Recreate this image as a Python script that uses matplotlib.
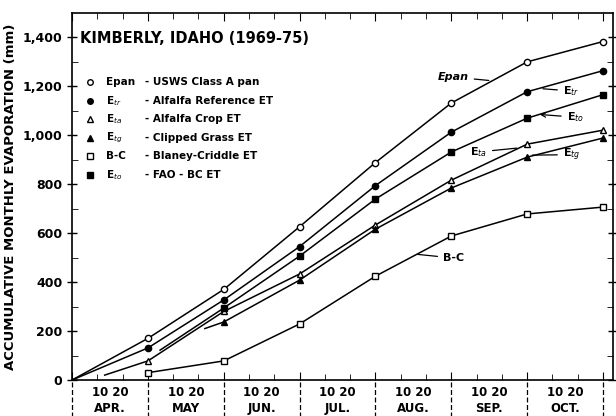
import numpy as np
import matplotlib.pyplot as plt
from matplotlib.ticker import FuncFormatter, MultipleLocator
from matplotlib.transforms import blended_transform_factory

# x = months since 1 April, y = accumulated evaporation (mm)
months = ['APR.', 'MAY', 'JUN.', 'JUL.', 'AUG.', 'SEP.', 'OCT.']

e_pan_x = [0, 1, 2, 3, 4, 5, 6, 7]
e_pan = [0, 170, 370, 626, 888, 1131, 1299, 1382]

e_tr_x = [0, 1, 2, 3, 4, 5, 6, 7]
e_tr = [0, 131, 327, 545, 794, 1012, 1177, 1263]

e_ta_x = [0.43, 1, 2, 3, 4, 5, 6, 7]
e_ta = [20, 78, 280, 433, 633, 816, 963, 1020]

e_tg_x = [1.75, 2, 3, 4, 5, 6, 7]
e_tg = [210, 237, 408, 616, 784, 910, 988]

bc_x = [1, 2, 3, 4, 5, 6, 7]
bc = [30, 78, 229, 424, 588, 678, 706]

e_to_x = [1.16, 2, 3, 4, 5, 6, 7]
e_to = [122, 294, 506, 739, 931, 1069, 1165]

series = [
    (e_pan_x, e_pan, 'o', 'white', 'Epan', '- USWS Class A pan'),
    (e_tr_x, e_tr, 'o', 'black', r'E$_{tr}$', '- Alfalfa Reference ET'),
    (e_ta_x, e_ta, '^', 'white', r'E$_{ta}$', '- Alfalfa Crop ET'),
    (e_tg_x, e_tg, '^', 'black', r'E$_{tg}$', '- Clipped Grass ET'),
    (bc_x, bc, 's', 'white', 'B-C', '- Blaney-Criddle ET'),
    (e_to_x, e_to, 's', 'black', r'E$_{to}$', '- FAO - BC ET'),
]

fig = plt.figure(figsize=(6.16, 4.16), dpi=100)
ax = fig.add_axes([0.117, 0.0865, 0.878, 0.882])

for xs, ys, mk, fc, short, desc in series:
    idx = [i for i, v in enumerate(xs) if float(v).is_integer() and v >= 1]
    ax.plot(xs, ys, color='black', lw=1.1, marker=mk, mfc=fc, mec='black',
            ms=4.5, mew=1.0, markevery=idx)

ax.set_xlim(0, 7.13)
ax.set_ylim(0, 1498)

ax.yaxis.set_major_locator(MultipleLocator(200))
ax.yaxis.set_minor_locator(MultipleLocator(100))
ax.yaxis.set_major_formatter(FuncFormatter(lambda v, p: f'{int(v):,}'))
ax.tick_params(axis='y', which='major', direction='inout', length=7, width=1,
               labelsize=9, right=True)
ax.tick_params(axis='y', which='minor', direction='in', length=4, right=True)
for lab in ax.get_yticklabels():
    lab.set_fontweight('bold')

ax.xaxis.set_major_locator(MultipleLocator(1))
ax.xaxis.set_minor_locator(MultipleLocator(1 / 3))
ax.tick_params(axis='x', which='both', direction='in', top=True,
               labelbottom=False, length=4)
ax.tick_params(axis='x', which='major', length=6)

for sp in ax.spines.values():
    sp.set_linewidth(1.2)

trans = blended_transform_factory(ax.transData, ax.transAxes)
ax.vlines(range(0, 8), -0.1, 0, transform=trans, colors='black',
          linestyles=(0, (4, 2)), lw=0.9, clip_on=False)
for i, m in enumerate(months):
    ax.text(i + 0.5, -0.035, '10 20', transform=trans, ha='center',
            va='center', fontsize=8.5, fontweight='bold')
    ax.text(i + 0.5, -0.078, m, transform=trans, ha='center', va='center',
            fontsize=8.5, fontweight='bold')

ax.set_ylabel('ACCUMULATIVE MONTHLY EVAPORATION (mm)', fontsize=9.5,
              fontweight='bold', labelpad=4)

ax.text(0.015, 0.932, 'KIMBERLY, IDAHO (1969-75)', transform=ax.transAxes,
        fontsize=10.5, fontweight='bold', va='center')

# legend block
for k, (xs, ys, mk, fc, short, desc) in enumerate(series):
    yy = 0.812 - k * 0.0505
    ax.plot([0.033], [yy], marker=mk, mfc=fc, mec='black', ms=4, mew=1.0,
            transform=ax.transAxes, clip_on=False, color='black')
    ax.text(0.062, yy, short, transform=ax.transAxes, fontsize=7.5,
            fontweight='bold', va='center')
    ax.text(0.135, yy, desc, transform=ax.transAxes, fontsize=7.5,
            fontweight='bold', va='center')

# curve labels
lbl = dict(fontsize=8, fontweight='bold', va='center')
arr = dict(arrowstyle='-', color='black', lw=0.9)
ax.annotate('Epan', xy=(5.53, 1222), xytext=(4.82, 1237), ha='left',
            arrowprops=arr, fontstyle='italic', **lbl)
ax.annotate(r'E$_{tr}$', xy=(6.17, 1190), xytext=(6.47, 1180), ha='left',
            arrowprops=arr, **lbl)
ax.annotate(r'E$_{to}$', xy=(6.13, 1085), xytext=(6.52, 1073), ha='left',
            arrowprops=dict(arrowstyle='->', color='black', lw=0.9), **lbl)
ax.annotate(r'E$_{ta}$', xy=(5.9, 948), xytext=(5.47, 931), ha='right',
            arrowprops=arr, **lbl)
ax.annotate(r'E$_{tg}$', xy=(6.03, 918), xytext=(6.47, 920), ha='left',
            arrowprops=arr, **lbl)
ax.annotate('B-C', xy=(4.52, 514), xytext=(4.89, 498), ha='left',
            arrowprops=arr, **lbl)

fig.savefig('out.png', dpi=100)
